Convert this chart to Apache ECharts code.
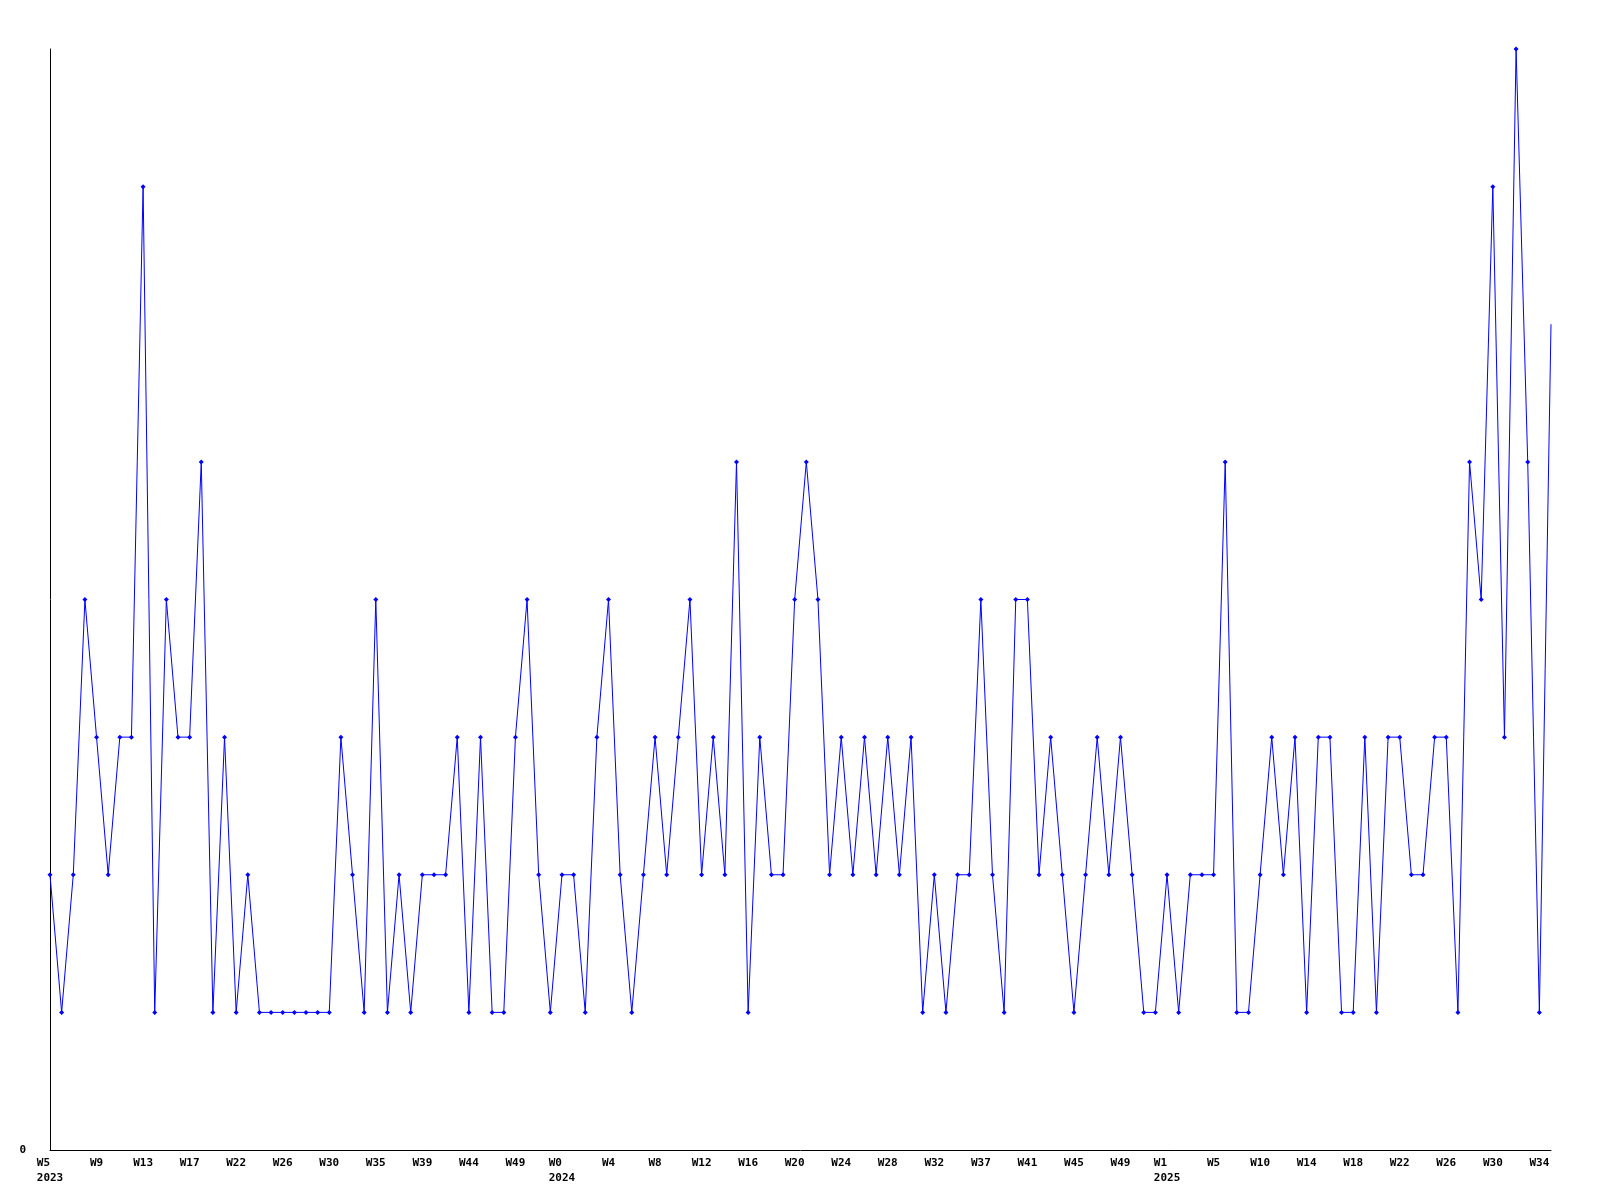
<!DOCTYPE html>
<html>
<head>
<meta charset="utf-8">
<script src="https://cdn.jsdelivr.net/npm/echarts@6/dist/echarts.min.js"></script>
<style>html,body{margin:0;padding:0;background:#fff}#c{width:1600px;height:1200px}</style>
</head>
<body>
<div id="c"></div>
<script>
const weeks2023 = ['W5','W6','W7','W8','W9','W10','W11','W12','W13','W14','W15','W16','W17','W18','W19','W20','W22','W23','W24','W25','W26','W27','W28','W29','W30','W31','W32','W33','W35','W36','W37','W38','W39','W40','W41','W42','W44','W45','W46','W47','W49','W50','W51','W52'];
const weeks2024 = ['W0','W1','W2','W3','W4','W5','W6','W7','W8','W9','W10','W11','W12','W13','W14','W15','W16','W17','W18','W19','W20','W21','W22','W23','W24','W25','W26','W27','W28','W29','W30','W31','W32','W33','W34','W36','W37','W38','W39','W40','W41','W42','W43','W44','W45','W46','W47','W48','W49','W50','W51','W52'];
const weeks2025 = ['W1','W2','W3','W4','W5','W6','W7','W8','W10','W11','W12','W13','W14','W15','W16','W17','W18','W19','W20','W21','W22','W23','W24','W25','W26','W27','W28','W29','W30','W31','W32','W33','W34','W35'];
const years = ['2023','2024','2025'];
const values = [
  2,1,2,4,3,2,3,3,7,1,4,3,3,5,1,3,1,2,1,1,
  1,1,1,1,1,3,2,1,4,1,2,1,2,2,2,3,1,3,1,1,
  3,4,2,1,2,2,1,3,4,2,1,2,3,2,3,4,2,3,2,5,
  1,3,2,2,4,5,4,2,3,2,3,2,3,2,3,1,2,1,2,2,
  4,2,1,4,4,2,3,2,1,2,3,2,3,2,1,1,2,1,2,2,
  2,5,1,1,2,3,2,3,1,3,3,1,1,3,1,3,3,2,2,3,
  3,1,5,4,7,3,8,5,1,6
];
const yTicks = [0];

const categories = [];
const yearAt = {};
[weeks2023, weeks2024, weeks2025].forEach((arr, k) => {
  yearAt[categories.length] = years[k];
  arr.forEach(w => categories.push(w));
});

const seriesData = values.map((v, i) => i === values.length - 1 ? {value: v, symbol: 'none'} : v);

const font = {fontFamily: 'DejaVu Sans Mono', fontWeight: 'bold', fontSize: 11, color: '#000'};

const chart = echarts.init(document.getElementById('c'), null, {renderer: 'canvas'});
chart.setOption({
  animation: false,
  backgroundColor: '#fff',
  grid: {left: 50, right: 49, top: 49, bottom: 50, containLabel: false},
  xAxis: {
    type: 'category',
    data: categories,
    boundaryGap: false,
    axisLine: {show: true, lineStyle: {color: '#000', width: 1}},
    axisTick: {show: false},
    splitLine: {show: false},
    axisLabel: Object.assign({
      interval: 3,
      margin: 6,
      lineHeight: 15,
      formatter: function (val, idx) {
        if (yearAt[idx] !== undefined) {
          const y = yearAt[idx];
          let w = val;
          while (w.length < y.length) w += '\u00a0';
          return w + '\n' + y;
        }
        return val;
      }
    }, font)
  },
  yAxis: {
    type: 'value',
    min: 0,
    max: 8,
    interval: 8,
    axisLine: {show: true, lineStyle: {color: '#000', width: 1}},
    axisTick: {show: false},
    splitLine: {show: false},
    axisLabel: Object.assign({
      margin: 24,
      formatter: v => yTicks.indexOf(v) >= 0 ? String(v) : ''
    }, font)
  },
  series: [{
    type: 'line',
    data: seriesData,
    symbol: 'diamond',
    symbolSize: 5,
    showAllSymbol: true,
    lineStyle: {color: '#0000ff', width: 1},
    itemStyle: {color: '#0000ff'},
    clip: false
  }]
});
</script>
</body>
</html>
